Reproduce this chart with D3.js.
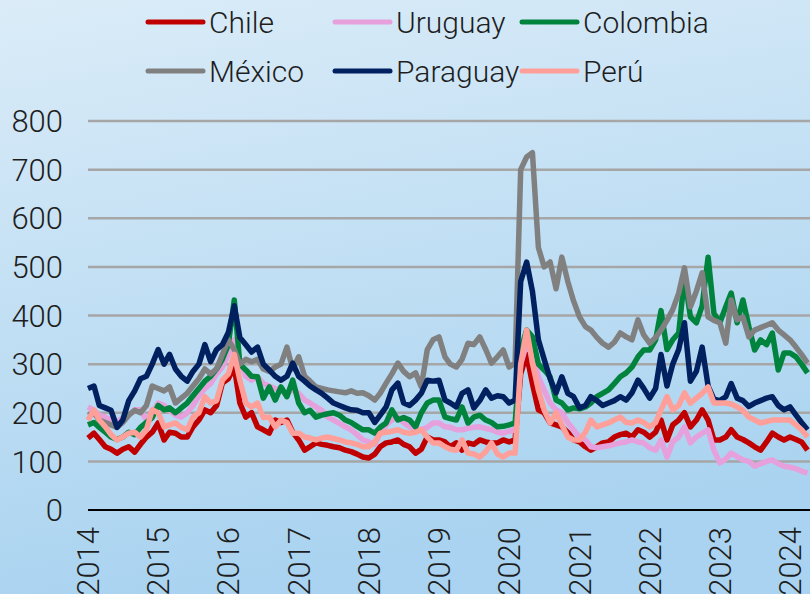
<!DOCTYPE html>
<html lang="es">
<head>
<meta charset="UTF-8">
<title>index</title>
<script src="https://d3js.org/d3.v7.min.js"></script>
<style>
  body { margin: 0; }
  svg text { font-family: Roboto, "Open Sans", sans-serif; font-weight: 300; fill: #1e1e1e; }
</style>
</head>
<body>
<div id="chart"></div>
<script>
// monthly observations, Jan 2014 .. Apr 2024
var months = d3.timeMonth.range(new Date(2014, 0, 1), new Date(2024, 4, 1));

var chile = [
  148,158,145,130,125,117,125,130,119,135,150,160,
  179,144,160,158,150,150,171,185,206,200,215,261,
  270,294,220,191,200,171,165,158,185,180,185,160,
  144,123,130,138,135,133,130,128,123,120,115,109,
  107,115,130,138,140,144,135,130,117,125,150,144,
  144,140,130,138,123,138,135,144,140,138,138,144,
  140,144,280,320,260,206,200,179,175,171,160,144,
  140,130,123,130,138,140,150,155,158,150,165,160,
  150,160,185,144,175,185,200,171,185,206,185,144,
  144,150,165,150,145,138,130,123,140,158,150,144,
  150,145,140,123];
var uruguay = [
  212,205,195,191,185,180,190,195,206,206,185,200,
  220,215,205,195,191,200,215,235,250,260,280,294,
  320,350,309,275,267,274,260,255,250,245,240,247,
  240,226,220,212,205,191,185,178,171,165,155,144,
  140,135,158,175,185,191,180,171,168,165,170,179,
  179,171,170,165,165,168,170,171,168,165,160,158,
  162,165,300,343,329,274,247,220,206,200,180,165,
  150,144,130,128,130,132,135,138,140,144,140,138,
  128,123,144,109,140,150,171,138,150,158,165,123,
  97,105,117,110,103,100,90,95,100,103,95,90,
  88,85,80,76];
var colombia = [
  175,180,170,160,150,145,150,160,155,170,180,190,
  215,206,210,200,210,220,235,250,265,275,290,310,
  340,432,300,288,275,274,230,253,226,253,233,267,
  220,200,205,191,195,198,200,195,185,180,172,165,
  165,158,170,179,206,185,190,185,171,200,220,226,
  226,191,188,185,212,179,191,195,185,180,171,172,
  175,179,330,370,356,300,288,274,226,220,206,210,
  208,212,220,233,240,247,260,274,282,294,315,329,
  329,350,410,330,350,364,479,397,385,420,520,405,
  385,418,446,385,432,377,329,350,340,364,288,323,
  323,315,300,282];
var mexico = [
  195,200,185,180,175,170,180,195,205,200,215,255,
  250,245,253,220,230,240,255,270,290,280,290,320,
  350,330,300,310,305,310,290,285,294,300,335,290,
  315,275,265,253,250,247,245,243,241,245,240,241,
  235,226,240,261,280,302,285,274,282,253,330,350,
  356,315,300,294,310,343,340,356,330,302,315,329,
  294,302,700,726,735,540,500,510,455,520,470,430,
  397,377,370,355,343,335,345,364,356,350,391,360,
  343,355,370,390,412,446,498,418,450,488,397,390,
  385,343,432,391,397,356,370,375,380,385,370,360,
  350,335,320,302];
var paraguay = [
  250,255,215,210,205,170,185,225,245,270,275,300,
  330,300,320,290,275,265,285,300,340,305,330,340,
  365,420,355,340,325,335,300,288,275,267,275,302,
  275,265,255,247,240,230,220,215,210,206,205,200,
  200,180,195,212,247,261,220,215,226,240,267,265,
  267,226,220,212,240,247,210,225,247,230,235,233,
  220,226,470,510,450,350,310,270,241,274,240,233,
  210,215,233,225,215,220,225,233,226,241,267,250,
  230,250,320,255,300,330,385,265,285,335,255,228,
  225,233,260,230,225,213,220,225,230,233,215,206,
  212,195,180,165];
var peru = [
  185,206,185,171,155,144,150,158,160,150,165,206,
  200,171,175,179,170,165,191,200,233,220,225,267,
  280,320,267,220,212,220,190,191,171,185,180,158,
  158,150,148,144,148,150,147,144,140,138,135,130,
  130,140,158,160,162,165,160,158,160,165,150,138,
  138,130,125,123,144,117,115,109,120,138,115,109,
  117,117,300,370,302,247,206,179,200,175,150,144,
  144,160,185,171,175,179,185,191,180,179,185,180,
  171,180,206,233,206,215,241,220,230,240,253,220,
  220,220,218,212,205,191,185,179,182,185,185,185,
  185,175,165,150];

var seriesNames = ["Chile", "Uruguay", "Colombia", "México", "Paraguay", "Perú"];
var seriesValues = [chile, uruguay, colombia, mexico, paraguay, peru];
var seriesColors = ["#c00000", "#e6a0dc", "#00843d", "#808080", "#002060", "#ff9f9a"];
var yTicks = [0, 100, 200, 300, 400, 500, 600, 700, 800];
var xYears = [2014, 2015, 2016, 2017, 2018, 2019, 2020, 2021, 2022, 2023, 2024];

var W = 810, H = 594;

var svg = d3.select("#chart").append("svg")
  .attr("width", W)
  .attr("height", H);

// background gradient
var grad = svg.append("defs").append("linearGradient")
  .attr("id", "bg")
  .attr("x1", 0).attr("y1", 0).attr("x2", 0.25).attr("y2", 1);
grad.append("stop").attr("offset", "0%").attr("stop-color", "#dbecf8");
grad.append("stop").attr("offset", "100%").attr("stop-color", "#a9d3f0");
svg.append("rect").attr("width", W).attr("height", H).attr("fill", "url(#bg)");

var x = d3.scaleTime()
  .domain([new Date(2014, 0, 1), new Date(2024, 0, 1)])
  .range([88, 790]);
var y = d3.scaleLinear()
  .domain([0, 800])
  .range([510, 121]);

// gridlines
svg.append("g")
  .selectAll("line")
  .data(yTicks.filter(function(d) { return d > 0; }))
  .enter().append("line")
    .attr("x1", 88).attr("x2", W)
    .attr("y1", function(d) { return y(d); })
    .attr("y2", function(d) { return y(d); })
    .attr("stroke", "#a6a6a6")
    .attr("stroke-width", 2.5);

// y labels
svg.append("g")
  .selectAll("text")
  .data(yTicks)
  .enter().append("text")
    .attr("x", 63)
    .attr("y", function(d) { return y(d); })
    .attr("dy", "0.36em")
    .attr("text-anchor", "end")
    .style("font-size", "31px")
    .text(function(d) { return d; });

// lines
var line = d3.line()
  .x(function(d) { return x(d.date); })
  .y(function(d) { return y(d.v); });

seriesValues.forEach(function(vals, i) {
  var pts = months.map(function(m, j) { return {date: m, v: vals[j]}; });
  svg.append("path")
    .datum(pts)
    .attr("d", line)
    .attr("fill", "none")
    .attr("stroke", seriesColors[i])
    .attr("stroke-width", 5.5)
    .attr("stroke-linejoin", "round");
});

// x axis line
svg.append("line")
  .attr("x1", 88).attr("x2", W)
  .attr("y1", y(0)).attr("y2", y(0))
  .attr("stroke", "#000")
  .attr("stroke-width", 2);

// x labels (rotated, cut by the bottom edge like the original)
svg.append("g")
  .selectAll("text")
  .data(xYears)
  .enter().append("text")
    .attr("transform", function(d) {
      return "translate(" + x(new Date(d, 0, 1)) + ",527) rotate(-90)";
    })
    .attr("dy", "0.36em")
    .attr("text-anchor", "end")
    .style("font-size", "31px")
    .text(function(d) { return d; });

// legend
var legend = svg.append("g");
seriesNames.forEach(function(name, i) {
  var col = i % 3, row = Math.floor(i / 3);
  var lx = 148 + col * 187, ly = 22 + row * 49;
  legend.append("line")
    .attr("x1", lx).attr("x2", lx + 55)
    .attr("y1", ly).attr("y2", ly)
    .attr("stroke", seriesColors[i])
    .attr("stroke-width", 5)
    .attr("stroke-linecap", "round");
  legend.append("text")
    .attr("x", lx + 61)
    .attr("y", ly)
    .attr("dy", "0.36em")
    .style("font-size", "30px")
    .text(name);
});
</script>
</body>
</html>
